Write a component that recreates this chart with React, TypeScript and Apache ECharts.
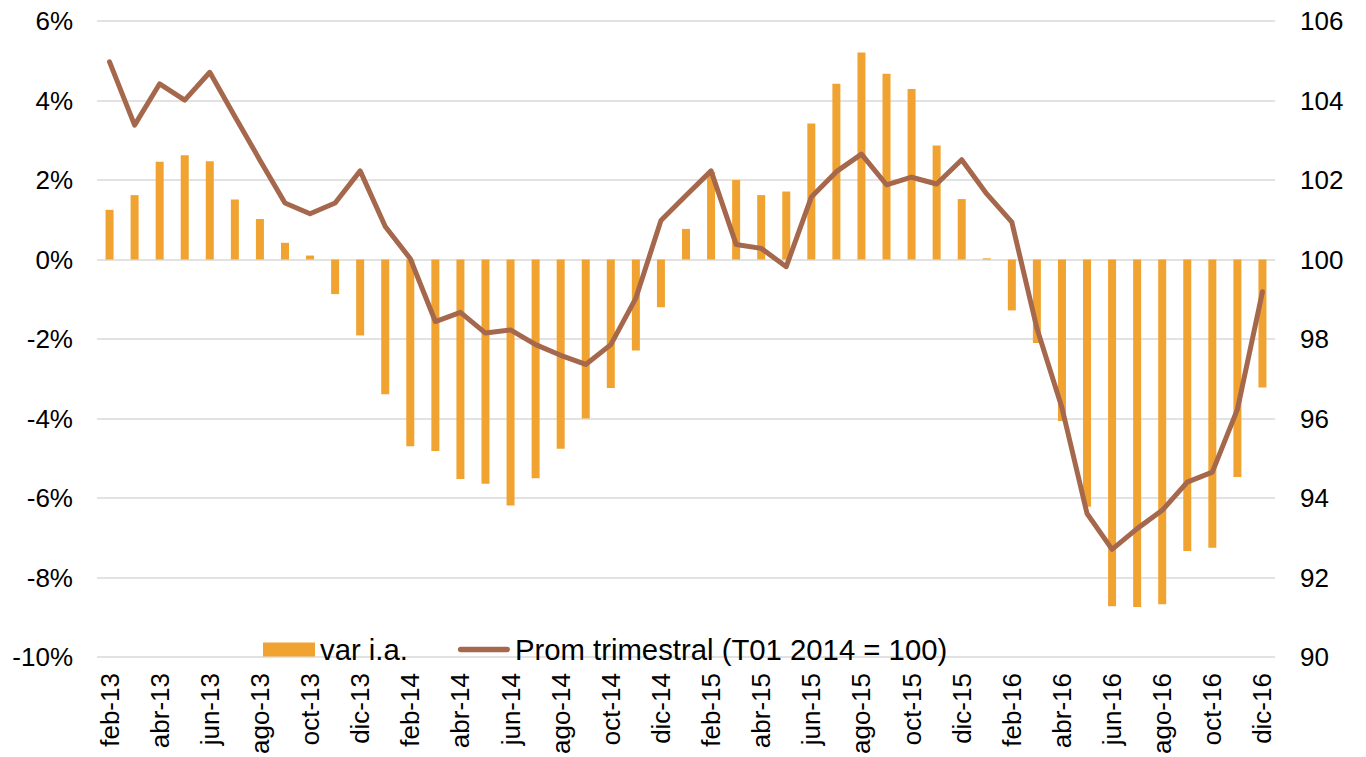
import React, { useEffect, useRef } from "react";
import * as echarts from "echarts";

const months = [
  "feb-13","mar-13","abr-13","may-13","jun-13","jul-13","ago-13","sep-13","oct-13","nov-13","dic-13",
  "ene-14","feb-14","mar-14","abr-14","may-14","jun-14","jul-14","ago-14","sep-14","oct-14","nov-14","dic-14",
  "ene-15","feb-15","mar-15","abr-15","may-15","jun-15","jul-15","ago-15","sep-15","oct-15","nov-15","dic-15",
  "ene-16","feb-16","mar-16","abr-16","may-16","jun-16","jul-16","ago-16","sep-16","oct-16","nov-16","dic-16",
];

// var i.a. (%)
const varIA = [
  1.25, 1.62, 2.46, 2.62, 2.47, 1.51, 1.02, 0.42, 0.1, -0.87, -1.91,
  -3.39, -4.7, -4.82, -5.52, -5.64, -6.19, -5.5, -4.76, -4.0, -3.23, -2.29, -1.2,
  0.77, 2.2, 2.0, 1.62, 1.71, 3.42, 4.42, 5.21, 4.67, 4.29, 2.87, 1.52,
  0.03, -1.28, -2.1, -4.06, -6.22, -8.72, -8.74, -8.67, -7.33, -7.25, -5.47, -3.22,
];

// Prom trimestral (T01 2014 = 100)
const promTrim = [
  104.97, 103.38, 104.42, 104.01, 104.71, 103.6, 102.5, 101.42, 101.15, 101.42, 102.23,
  100.83, 100.02, 98.44, 98.67, 98.15, 98.23, 97.86, 97.59, 97.36, 97.86, 99.03, 100.98,
  101.61, 102.23, 100.38, 100.28, 99.82, 101.57, 102.21, 102.65, 101.88, 102.07, 101.9, 102.51,
  101.65, 100.94, 98.27, 96.27, 93.61, 92.71, 93.23, 93.69, 94.4, 94.65, 96.23, 99.19,
];

const barName = "var i.a.";
const lineName = "Prom trimestral (T01 2014 = 100)";

const FONT = "Liberation Sans, Arial, sans-serif";
const BAR_COLOR = "#F0A330";
const LINE_COLOR = "#A5684D";

export default function App() {
  const ref = useRef<HTMLDivElement>(null);
  useEffect(() => {
    if (!ref.current) return;
    const chart = echarts.init(ref.current, undefined, { renderer: "svg" });
    chart.setOption({
      animation: false,
      backgroundColor: "#ffffff",
      textStyle: { fontFamily: FONT },
      grid: { left: 97, right: 91, top: 21, bottom: 97, containLabel: false },
      legend: {
        show: true,
        left: 258,
        top: 630,
        itemWidth: 52,
        itemHeight: 14,
        itemGap: 50,
        itemTextGap: 5,
        textStyle: { fontSize: 29.3, color: "#000", fontFamily: FONT },
        data: [
          { name: barName, icon: "rect", itemStyle: { color: BAR_COLOR } },
          {
            name: lineName,
            icon: "path://M3,0 L53,0 A3,3 0 0 1 53,6 L3,6 A3,3 0 0 1 3,0 Z",
            itemStyle: { color: LINE_COLOR },
          },
        ],
      },
      xAxis: {
        type: "category",
        data: months,
        boundaryGap: true,
        axisLine: { show: false },
        axisTick: { show: false },
        axisLabel: {
          interval: 1,
          rotate: 90,
          fontSize: 26,
          color: "#000",
          margin: 16,
          fontFamily: FONT,
        },
      },
      yAxis: [
        {
          type: "value",
          min: -10,
          max: 6,
          interval: 2,
          axisLine: { show: false },
          axisTick: { show: false },
          axisLabel: {
            formatter: (v: number) => `${v}%`,
            fontSize: 26,
            color: "#000",
            margin: 24,
            fontFamily: FONT,
          },
          splitLine: { lineStyle: { color: "#d9d9d9", width: 1.5 } },
        },
        {
          type: "value",
          min: 90,
          max: 106,
          interval: 2,
          position: "right",
          axisLine: { show: false },
          axisTick: { show: false },
          axisLabel: {
            fontSize: 26,
            color: "#000",
            margin: 25,
            fontFamily: FONT,
          },
          splitLine: { show: false },
        },
      ],
      series: [
        {
          name: barName,
          type: "bar",
          data: varIA,
          barWidth: 8,
          itemStyle: { color: BAR_COLOR },
          yAxisIndex: 0,
        },
        {
          name: lineName,
          type: "line",
          data: promTrim,
          yAxisIndex: 1,
          symbol: "none",
          showSymbol: false,
          lineStyle: { color: LINE_COLOR, width: 5, join: "round", cap: "round" },
          itemStyle: { color: LINE_COLOR },
        },
      ],
    });
    return () => chart.dispose();
  }, []);
  return (
    <div
      ref={ref}
      style={{ position: "fixed", left: 0, top: 0, width: 1366, height: 757 }}
    />
  );
}
